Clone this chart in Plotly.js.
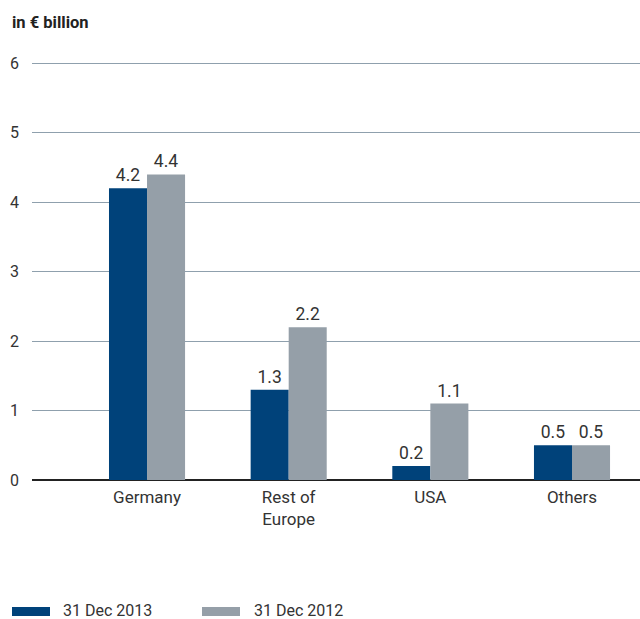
<!DOCTYPE html>
<html>
<head>
<meta charset="utf-8">
<script src="https://cdn.plot.ly/plotly-3.0.1.min.js"></script>
<style>html,body{margin:0;padding:0;background:#fff;}#chart{width:640px;height:619px;}</style>
</head>
<body>
<div id="chart"></div>
<script>
const categories = ["Germany", "Rest of<br>Europe", "USA", "Others"];
const series2013 = [4.2, 1.3, 0.2, 0.5];
const series2012 = [4.4, 2.2, 1.1, 0.5];
const seriesNames = ["31 Dec 2013", "31 Dec 2012"];
const yTicks = [0, 1, 2, 3, 4, 5, 6];

const colDark = "#00427a";
const colGray = "#959fa8";
const fontFam = "Roboto, 'DejaVu Sans', sans-serif";

const fmt = v => v.toFixed(1);

const traces = [
  {type: "bar", name: seriesNames[0], x: categories, y: series2013,
   marker: {color: colDark}, text: series2013.map(fmt), textposition: "outside",
   textfont: {size: 17.5, color: "#333", family: fontFam}, cliponaxis: false, hoverinfo: "skip"},
  {type: "bar", name: seriesNames[1], x: categories, y: series2012,
   marker: {color: colGray}, text: series2012.map(fmt), textposition: "outside",
   textfont: {size: 17.5, color: "#333", family: fontFam}, cliponaxis: false, hoverinfo: "skip"}
];

const T = 62, B = 480;
const px = p => (p - 32) / 608;
const py = p => (B - p) / (B - T);

const layout = {
  width: 640, height: 619,
  margin: {l: 32, r: 0, t: T, b: 619 - B, pad: 0},
  paper_bgcolor: "#fff", plot_bgcolor: "#fff",
  font: {family: fontFam, size: 16, color: "#333"},
  showlegend: false,
  barmode: "group", bargap: 0.463, bargroupgap: 0,
  title: {text: "<b>in € billion</b>", x: 12/640, xanchor: "left", xref: "container",
          y: 1 - 22/619, yanchor: "middle", yref: "container",
          font: {size: 16.5, color: "#222", family: fontFam}},
  xaxis: {range: [-0.812, 3.48], showgrid: false, zeroline: false, showline: false,
          ticks: "", ticklabelstandoff: 5, tickfont: {size: 17, color: "#333"}, fixedrange: true},
  yaxis: {range: [0, 6.02], tickvals: yTicks, ticktext: yTicks.map(String),
          showgrid: true, gridcolor: "#8fa0ad", gridwidth: 1,
          zeroline: true, zerolinecolor: "#222", zerolinewidth: 1.5,
          showline: false, ticks: "", ticklabelstandoff: 12,
          tickfont: {size: 16, color: "#333"}, fixedrange: true},
  shapes: [
    {type: "rect", xref: "paper", yref: "paper", x0: px(12), x1: px(50), y0: py(616), y1: py(607),
     fillcolor: colDark, line: {width: 0}},
    {type: "rect", xref: "paper", yref: "paper", x0: px(202), x1: px(240), y0: py(616), y1: py(607),
     fillcolor: colGray, line: {width: 0}}
  ],
  annotations: [
    {text: seriesNames[0], xref: "paper", yref: "paper", x: px(61), y: py(610),
     xanchor: "left", yanchor: "middle", showarrow: false, font: {size: 16, color: "#333"}},
    {text: seriesNames[1], xref: "paper", yref: "paper", x: px(252), y: py(610),
     xanchor: "left", yanchor: "middle", showarrow: false, font: {size: 16, color: "#333"}}
  ]
};

Plotly.newPlot("chart", traces, layout, {displayModeBar: false, staticPlot: true});
</script>
</body>
</html>
